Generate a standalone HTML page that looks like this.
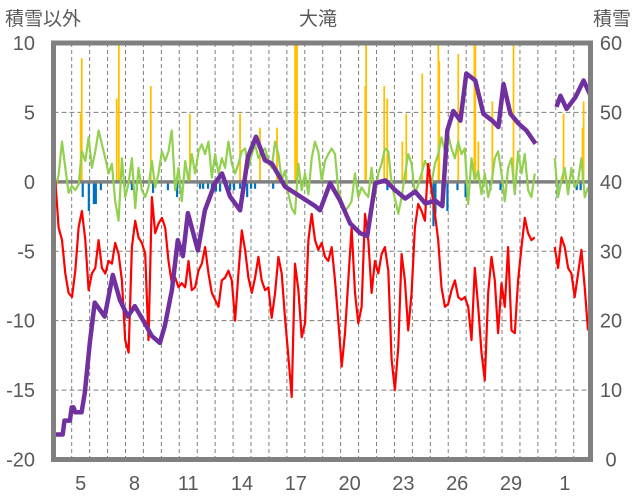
<!DOCTYPE html>
<html><head><meta charset="utf-8">
<style>
html,body{margin:0;padding:0;background:#fff;}
svg{display:block;font-family:"Liberation Sans","Noto Sans CJK JP",sans-serif;}
</style></head>
<body>
<svg id="chart" width="636" height="501" viewBox="0 0 636 501">
  <text x="5" y="25" font-size="19" fill="#595959">積雪以外</text>
  <text x="318" y="25" font-size="19" fill="#595959" text-anchor="middle">大滝</text>
  <text x="631" y="25" font-size="19" fill="#595959" text-anchor="end">積雪</text>
  <g id="grid"></g>
  <g id="bars"></g>
  <g id="lines"></g>
  <g id="axes"></g>
</svg>
<script>
const leftTicks = [10,5,0,-5,-10,-15,-20];
const rightTicks = [60,50,40,30,20,10,0];
const dayTickT = [5,8,11,14,17,20,23,26,29,32];
const dayTickLabels = ["5","8","11","14","17","20","23","26","29","1"];
const seriesStart = 3.9;
const seriesStep = 0.1857;
const redTemp = [-5.4,0.1,-3.3,-4.2,-6.6,-8.0,-8.3,-6.4,-3.3,-2.1,-4.2,-7.8,-6.6,-6.2,-4.2,-6.2,-6.6,-5.7,-5.9,-4.4,-5.2,-7.1,-11.4,-12.3,-4.7,-2.8,-4.0,-4.4,-5.2,-11.4,-1.1,-3.7,-3.0,-2.6,-3.3,-5.7,-7.3,-6.9,-7.6,-7.3,-7.6,-5.7,-7.8,-7.6,-6.4,-5.9,-4.7,-6.6,-8.0,-8.5,-9.0,-7.1,-6.9,-6.4,-7.1,-10.0,-6.6,-3.5,-4.9,-6.9,-8.0,-6.9,-5.4,-7.1,-7.8,-7.6,-9.8,-8.0,-5.4,-6.6,-9.8,-12.6,-15.5,-5.9,-7.8,-11.2,-10.2,-4.2,-2.3,-4.2,-4.9,
-4.4,-5.4,-5.7,-4.7,-7.1,-10.0,-13.3,-10.9,-7.1,-3.3,-8.0,-10.2,-9.0,-2.3,-4.2,-8.0,-5.7,-6.6,-5.2,-4.7,-6.4,-12.8,-15.0,-11.9,-5.2,-7.1,-10.7,-8.0,-3.3,-1.6,-2.1,-2.8,1.3,-0.6,-2.3,-4.2,-7.6,-9.0,-8.8,-7.8,-7.1,-8.3,-8.5,-8.3,-9.0,-11.4,-6.2,-9.0,-12.3,-14.3,-8.0,-5.4,-7.1,-10.9,-7.3,-9.0,-4.7,-10.7,-10.9,-7.1,-4.7,-2.6,-3.7,-4.2,-4.0,
null,null,null,null,null,
-4.7,-6.2,-4.0,-4.7,-6.2,-6.6,-8.3,-6.6,-4.9,-7.6,-10.7];
const greenTemp = [-0.9,-0.5,0.5,2.9,1.0,-0.8,-0.3,-0.6,-0.2,
2.2,1.5,3.2,1.0,2.2,3.7,2.7,1.7,0.6,1.3,-1.4,-2.8,1.7,-1.1,-0.1,1.7,-1.9,1.0,-0.6,-1.1,-0.4,1.5,-0.4,0.6,2.2,1.5,2.2,3.7,-0.6,1.0,-1.4,1.5,0.1,2.0,0.6,2.2,2.7,2.0,2.9,0.3,2.0,0.6,1.7,1.0,2.9,1.3,0.6,1.3,2.2,2.4,1.0,2.0,2.7,1.7,2.2,2.4,1.5,1.0,2.9,2.0,0.1,0.8,-0.9,-1.9,-2.3,1.3,-0.6,0.6,-0.9,1.7,2.9,2.2,
0.1,1.5,2.0,2.4,2.0,-0.6,-1.4,-2.1,-1.8,-1.4,0.6,-1.1,-0.4,-0.8,-1.1,1.0,-1.1,0.6,1.3,2.4,2.2,-0.1,-1.2,-2.3,-1.1,0.5,2.0,1.3,-0.9,-0.2,0.6,1.5,1.0,-0.1,1.3,2.0,3.2,2.2,3.4,2.4,1.7,2.9,2.0,2.4,-1.6,1.7,0.1,0.8,-0.9,0.6,-1.1,-0.1,1.7,2.2,0.6,-1.4,1.0,1.7,-0.9,2.2,0.6,2.0,-0.6,-1.1,0.6,
null,null,null,null,null,
1.7,-1.1,0.1,1.0,-0.9,1.0,-0.4,0.1,1.7,-1.1,-0.4];
const snowT = [4.05,4.5,4.6,4.9,5.0,5.1,5.2,5.55,5.73,6.01,6.28,6.56,6.84,7.29,7.68,8.13,8.52,9.08,9.47,9.92,10.2,10.59,10.92,11.2,11.48,12.04,12.43,12.99,13.38,13.83,14.39,14.83,15.28,15.78,16.17,16.9,17.74,18.58,18.85,19.41,19.97,20.53,21.09,21.48,21.93,22.49,23.04,23.6,24.16,24.72,25.28,25.67,25.95,26.28,26.68,27.01,27.51,27.96,28.46,28.8,29.08,29.47,29.92,30.36,30.87,31.5,32.04,32.26,32.6,33.1,33.55,33.94];
const snowDepth = [3.6,3.6,5.6,5.6,7.5,7.5,6.8,6.8,9.6,16.8,22.6,21.6,20.6,26.6,23.0,20.6,22.1,19.6,17.8,16.8,19.3,24.4,31.6,29.3,35.5,30.1,35.9,39.8,41.2,37.9,35.9,43.6,46.5,43.1,42.6,39.3,37.9,36.5,35.9,39.8,37.3,34.0,32.6,32.2,39.8,40.2,38.8,37.6,38.6,36.9,37.3,36.5,47.4,50.2,48.8,55.6,54.6,49.8,48.8,47.9,54.1,49.8,48.4,47.4,45.5,null,50.8,52.4,50.5,52.2,54.6,52.4];
const precipT = [5.5,5.56,7.51,7.63,9.41,11.59,14.39,15.5,16.45,17.46,17.52,17.57,21.37,21.42,22.43,22.6,23.44,23.66,24.55,25.45,25.5,26.56,27.46,27.51,27.68,28.46,29.64,32.43,33.49,33.55];
const precipVal = [4.9,8.9,6.0,10,6.9,4.9,4.9,3.9,3.9,10,10,10,6.9,10,6.9,6.0,2.9,4.9,7.8,10,8.7,9.2,10,10,2.9,5.8,10,4.9,3.9,5.8];
const blueT = [5.61,5.95,6.23,6.34,6.62,8.35,8.63,9.53,10.36,10.87,11.03,12.15,12.32,12.6,12.82,13.04,13.27,13.83,14.05,14.39,14.61,14.78,15.0,15.22,16.23,21.93,22.6,25.17,25.28,25.67,25.95,26.51,26.96,28.35,28.91,32.09,33.16,33.38];
const blueVal = [-1.1,-2.1,-1.6,-1.6,-0.6,-0.6,-0.6,-0.8,-0.6,-1.1,-0.5,-0.5,-0.5,-0.5,-0.7,-0.7,-0.7,-0.6,-0.6,-0.5,-0.5,-1.1,-0.5,-0.5,-0.5,-0.6,-0.6,-3.2,-2.3,-1.6,-2.1,-0.6,-1.1,-0.6,-0.6,-1.1,-0.6,-0.6];

const PL=53.5, PR=590.5, PT=43, PB=459.5;
function xT(t){ return 71.7 + (t-5)*17.93; }
function yL(v){ return PT + (10 - v) * (PB-PT)/30; }
function yR(v){ return PB - v * (PB-PT)/60; }
const NS="http://www.w3.org/2000/svg";
function mk(tag, attrs, parent){ const e=document.createElementNS(NS,tag); for(const k in attrs) e.setAttribute(k,attrs[k]); parent.appendChild(e); return e; }
const grid=document.getElementById('grid'), bars=document.getElementById('bars'), lines=document.getElementById('lines'), axes=document.getElementById('axes');

for(let d=5; d<=33; d++){
  const x=xT(d);
  const g=mk('line',{x1:x,x2:x,y1:PT,y2:PB,stroke:'#7f7f7f','stroke-width':1,'stroke-dasharray':'4,3'},grid);
  
  
}
leftTicks.forEach(v=>{
  if(v===0||v===10||v===-20) return;
  const y=yL(v);
  const g=mk('line',{x1:PL,x2:PR,y1:y,y2:y,stroke:'#7f7f7f','stroke-width':1,'stroke-dasharray':'5,3'},grid);
  
  
});
precipT.forEach((t,i)=>{
  const y=yL(precipVal[i]);
  const r=mk('rect',{x:xT(t)-0.9,y:y,width:1.8,height:yL(0)-y,fill:'#ffc000'},bars);
  
  
});
blueT.forEach((t,i)=>{
  const y0=yL(0);
  const r=mk('rect',{x:xT(t)-1,y:y0,width:2.2,height:yL(blueVal[i])-y0,fill:'#0070c0'},bars);
  
  
});
const zg=grid.parentNode.insertBefore(document.createElementNS(NS,'g'),lines);
const z=mk('line',{x1:PL,x2:PR,y1:yL(0),y2:yL(0),stroke:'#808080','stroke-width':3.5},zg);



function pathUniform(vals, yf){
  let d='', pen=false;
  vals.forEach((v,i)=>{
    if(v===null){ pen=false; return; }
    const x=xT(seriesStart+i*seriesStep), y=yf(v);
    d += (pen?'L':'M') + x.toFixed(1)+','+y.toFixed(1);
    pen=true;
  });
  return d;
}
function pathXY(ts, vals, yf){
  let d='', pen=false;
  vals.forEach((v,i)=>{
    if(v===null){ pen=false; return; }
    d += (pen?'L':'M') + xT(ts[i]).toFixed(1)+','+yf(v).toFixed(1);
    pen=true;
  });
  return d;
}
const gl=mk('path',{d:pathUniform(greenTemp,yL),fill:'none',stroke:'#92d050','stroke-width':2.2,'stroke-linejoin':'round'},lines);


const rl=mk('path',{d:pathUniform(redTemp,yL),fill:'none',stroke:'#ff0000','stroke-width':2.2,'stroke-linejoin':'round'},lines);


const pl=mk('path',{d:pathXY(snowT,snowDepth,yR),fill:'none',stroke:'#7030a0','stroke-width':4.5,'stroke-linejoin':'round'},lines);



const fr=mk('rect',{x:PL,y:PT,width:PR-PL,height:PB-PT,fill:'none',stroke:'#808080','stroke-width':5},axes);


leftTicks.forEach(v=>{
  const t=mk('text',{x:35,y:yL(v)+7,'font-size':20,fill:'#595959','text-anchor':'end'},axes);
  t.textContent=String(v);
  
  
});
rightTicks.forEach(v=>{
  const t=mk('text',{x:611,y:yR(v)+7,'font-size':20,fill:'#595959','text-anchor':'middle'},axes);
  t.textContent=String(v);
  
  
});
dayTickT.forEach((d,i)=>{
  const t=mk('text',{x:xT(d+0.5),y:490,'font-size':20,fill:'#595959','text-anchor':'middle'},axes);
  t.textContent=dayTickLabels[i];
  
  
});
</script>
</body></html>
